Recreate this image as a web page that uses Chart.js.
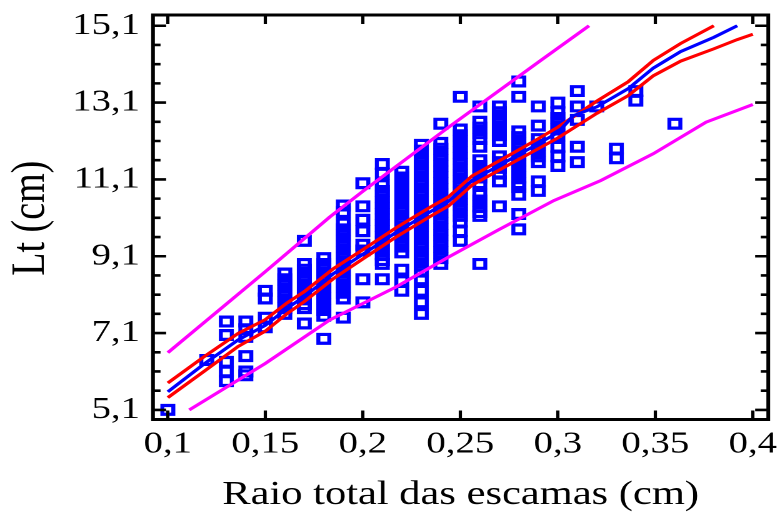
<!DOCTYPE html>
<html>
<head>
<meta charset="utf-8">
<script src="https://cdn.jsdelivr.net/npm/chart.js@4/dist/chart.umd.min.js"></script>
<style>
  html, body { margin: 0; padding: 0; background: #fff; overflow: hidden; }
  /* the original figure is stretched horizontally */
  #wrap { width: 624px; height: 518px; transform: scaleX(1.25); transform-origin: 0 0; }
</style>
</head>
<body>
<div id="wrap"><canvas id="chart"></canvas></div>
<script>
// Axis ticks
const X_TICKS = [0.1, 0.15, 0.2, 0.25, 0.3, 0.35, 0.4];
const X_LABELS = ['0,1', '0,15', '0,2', '0,25', '0,3', '0,35', '0,4'];
const Y_TICKS = [5.1, 7.1, 9.1, 11.1, 13.1, 15.1];
const Y_LABELS = ['5,1', '7,1', '9,1', '11,1', '13,1', '15,1'];
const Y_MINOR = [5.6, 6.1, 6.6, 7.6, 8.1, 8.6, 9.6, 10.1, 10.6, 11.6, 12.1, 12.6, 13.6, 14.1, 14.6];
const Y_TITLE = 'Lt (cm)';
const Y_TITLE_AT = 10.09; // valor de y onde fica o centro do título

// Observations: scale radius (cm) and the Lt values measured at each radius
const RAIO = [0.10, 0.12, 0.13, 0.14, 0.15, 0.16, 0.17, 0.18, 0.19, 0.20, 0.21, 0.22, 0.23,
              0.24, 0.25, 0.26, 0.27, 0.28, 0.29, 0.30, 0.31, 0.32, 0.33, 0.34, 0.36];
const LT = [
  [5.1],
  [6.4],
  [7.4, 7.05, 6.35, 6.1, 5.85],
  [7.4, 7.2, 7.0, 6.5, 6.1, 6.0],
  [8.2, 8.0, 7.5, 7.25],
  [8.65, 8.5, 8.35, 8.2, 8.05, 7.9, 7.75, 7.6],
  [9.5, 8.9, 8.75, 8.6, 8.45, 8.3, 8.15, 8.0, 7.85, 7.75, 7.35],
  [9.05, 8.9, 8.75, 8.6, 8.45, 8.3, 8.15, 8.0, 7.85, 7.7, 7.55, 6.95],
  [10.42, 10.25, 9.95, 9.8, 9.65, 9.5, 9.35, 9.2, 9.05, 8.9, 8.75, 8.6, 8.45, 8.3, 8.15, 8.0, 7.5],
  [11.0, 10.4, 10.05, 9.75, 9.4, 9.25, 8.5, 7.9],
  [11.5, 11.25, 10.95, 10.8, 10.65, 10.5, 10.35, 10.2, 10.05, 9.9, 9.75, 9.6, 9.45, 9.3, 9.15, 9.0, 8.9, 8.5],
  [11.3, 11.15, 11.0, 10.85, 10.7, 10.55, 10.4, 10.25, 10.1, 9.95, 9.8, 9.65, 9.5, 9.35, 9.2, 8.75, 8.45, 8.2],
  [12.0, 11.85, 11.7, 11.55, 11.4, 11.25, 11.1, 10.95, 10.8, 10.65, 10.5, 10.35, 10.2, 10.05, 9.9,
   9.75, 9.6, 9.45, 9.3, 9.15, 9.0, 8.85, 8.7, 8.5, 8.2, 7.9, 7.6],
  [12.55, 12.05, 11.9, 11.75, 11.6, 11.45, 11.3, 11.15, 11.0, 10.85, 10.7, 10.55, 10.4, 10.25, 10.1,
   9.95, 9.8, 9.65, 9.5, 9.35, 9.2, 9.05, 8.9],
  [13.25, 12.4, 12.25, 12.1, 11.95, 11.8, 11.65, 11.5, 11.35, 11.2, 11.05, 10.9, 10.75, 10.6, 10.45,
   10.3, 10.15, 10.0, 9.75, 9.5],
  [13.0, 12.6, 12.45, 12.3, 12.15, 11.95, 11.6, 11.45, 11.3, 11.15, 11.0, 10.7, 10.55, 10.4, 10.25, 10.15, 8.9],
  [13.0, 12.85, 12.7, 12.55, 12.4, 12.25, 12.1, 11.7, 11.55, 11.4, 11.25, 11.05, 10.4],
  [13.65, 13.25, 12.35, 12.2, 12.05, 11.9, 11.75, 11.6, 11.45, 11.3, 11.15, 11.0, 10.9, 10.7, 10.2, 9.8],
  [13.0, 12.5, 12.15, 12.0, 11.85, 11.7, 11.55, 11.05, 10.8],
  [13.1, 12.85, 12.7, 12.55, 12.4, 12.25, 11.95, 11.7, 11.45],
  [13.4, 13.0, 12.65, 11.95, 11.55],
  [13.0],
  [11.9, 11.65],
  [13.4, 13.15],
  [12.55]
];

// Fitted line (blue)
const FIT_X = [0.100, 0.119, 0.136, 0.150, 0.161, 0.170, 0.185, 0.200, 0.217, 0.234, 0.244,
               0.256, 0.273, 0.290, 0.300, 0.308, 0.320, 0.336, 0.349, 0.363, 0.380, 0.392];
const FIT_Y = [5.57, 6.31, 6.92, 7.30, 7.74, 8.05, 8.65, 9.15, 9.72, 10.24, 10.53,
               11.07, 11.55, 12.03, 12.32, 12.76, 12.99, 13.46, 14.00, 14.43, 14.80, 15.10];

// Confidence band (red)
const CONF_UP_X = [0.100, 0.119, 0.136, 0.150, 0.161, 0.170, 0.185, 0.200, 0.217, 0.234,
                   0.244, 0.256, 0.273, 0.290, 0.300, 0.320, 0.336, 0.349, 0.363, 0.380];
const CONF_UP_Y = [5.80, 6.50, 7.09, 7.45, 7.88, 8.18, 8.78, 9.27, 9.84, 10.36,
                   10.65, 11.19, 11.67, 12.16, 12.46, 13.14, 13.64, 14.20, 14.64, 15.10];
const CONF_LO_X = [0.100, 0.119, 0.136, 0.150, 0.161, 0.170, 0.185, 0.200, 0.217, 0.234, 0.244,
                   0.256, 0.273, 0.290, 0.300, 0.320, 0.336, 0.349, 0.363, 0.380, 0.392, 0.400];
const CONF_LO_Y = [5.42, 6.12, 6.75, 7.15, 7.60, 7.92, 8.52, 9.03, 9.60, 10.12, 10.41,
                   10.95, 11.43, 11.90, 12.18, 12.82, 13.28, 13.80, 14.18, 14.50, 14.74, 14.88];

// Prediction band (magenta)
const PRED_UP_X = [0.100, 0.150, 0.183, 0.200, 0.244, 0.291, 0.316];
const PRED_UP_Y = [6.59, 8.70, 10.12, 10.79, 12.46, 14.19, 15.10];
const PRED_LO_X = [0.111, 0.150, 0.183, 0.217, 0.244, 0.270, 0.298, 0.322, 0.349, 0.376, 0.400];
const PRED_LO_Y = [5.10, 6.31, 7.44, 8.30, 9.08, 9.80, 10.55, 11.07, 11.77, 12.59, 13.05];

const X_MIN = 0.0924, X_MAX = 0.4079;
const Y_MIN = 4.85, Y_MAX = 15.38;

// junta os pares x/y para o Chart.js
function pairs(xs, ys) {
  return xs.map((x, i) => ({ x: x, y: ys[i] }));
}

const points = [];
RAIO.forEach((r, i) => {
  LT[i].forEach(v => points.push({ x: r, y: v }));
});

function lineSet(data, color) {
  return {
    data: data,
    showLine: true,
    borderColor: color,
    borderWidth: 3,
    pointRadius: 0,
    tension: 0,
    fill: false
  };
}

// Moldura do gráfico, marcas para dentro nos quatro lados e título do eixo y
const framePlugin = {
  id: 'frame',
  afterDatasetsDraw(chart) {
    const { ctx, chartArea: a, scales: { x, y } } = chart;
    ctx.save();
    ctx.strokeStyle = '#000';
    ctx.lineWidth = 3;
    ctx.strokeRect(a.left, a.top, a.right - a.left, a.bottom - a.top);
    ctx.lineWidth = 2.6;
    ctx.beginPath();
    X_TICKS.forEach(v => {
      const px = x.getPixelForValue(v);
      ctx.moveTo(px, a.bottom); ctx.lineTo(px, a.bottom - 9);
      ctx.moveTo(px, a.top); ctx.lineTo(px, a.top + 9);
    });
    Y_TICKS.forEach(v => {
      const py = y.getPixelForValue(v);
      ctx.moveTo(a.left, py); ctx.lineTo(a.left + 10.5, py);
      ctx.moveTo(a.right, py); ctx.lineTo(a.right - 10.5, py);
    });
    Y_MINOR.forEach(v => {
      const py = y.getPixelForValue(v);
      ctx.moveTo(a.left, py); ctx.lineTo(a.left + 6, py);
      ctx.moveTo(a.right, py); ctx.lineTo(a.right - 6, py);
    });
    ctx.stroke();

    // título do eixo y
    ctx.translate(25, y.getPixelForValue(Y_TITLE_AT));
    ctx.rotate(-Math.PI / 2);
    ctx.fillStyle = '#000';
    ctx.font = "38px 'Liberation Serif', 'Times New Roman', serif";
    ctx.textAlign = 'center';
    ctx.textBaseline = 'middle';
    ctx.fillText(Y_TITLE, 0, 0);
    ctx.restore();
  }
};

Chart.defaults.font.family = "'Liberation Serif', 'Times New Roman', serif";
Chart.defaults.color = '#000';

new Chart(document.getElementById('chart'), {
  type: 'scatter',
  data: {
    datasets: [
      lineSet(pairs(FIT_X, FIT_Y), '#0000ff'),
      lineSet(pairs(CONF_UP_X, CONF_UP_Y), '#ff0000'),
      lineSet(pairs(CONF_LO_X, CONF_LO_Y), '#ff0000'),
      lineSet(pairs(PRED_UP_X, PRED_UP_Y), '#ff00ff'),
      lineSet(pairs(PRED_LO_X, PRED_LO_Y), '#ff00ff'),
      {
        data: points,
        pointStyle: 'rect',
        pointRadius: 6.2,
        borderWidth: 3.2,
        borderColor: '#0000ff',
        backgroundColor: 'rgba(0,0,0,0)'
      }
    ]
  },
  options: {
    responsive: true,
    maintainAspectRatio: false,
    animation: false,
    devicePixelRatio: 2,
    layout: { padding: { top: 15, right: 6.4, left: 0, bottom: 0 } },
    plugins: { legend: { display: false }, tooltip: { enabled: false } },
    scales: {
      x: {
        type: 'linear',
        min: X_MIN,
        max: X_MAX,
        grid: { display: false, drawTicks: false },
        border: { display: false },
        afterBuildTicks: s => { s.ticks = X_TICKS.map(v => ({ value: v })); },
        afterFit: s => {
          s.height = 98.5;
          s.paddingLeft = 0;
          s.paddingRight = 0;
        },
        ticks: {
          autoSkip: false,
          maxRotation: 0,
          padding: 6.5,
          font: { size: 31 },
          callback: (v, i) => X_LABELS[i]
        },
        title: {
          display: true,
          text: 'Raio total das escamas (cm)',
          font: { size: 34 },
          padding: { top: 0, bottom: 2.5 }
        }
      },
      y: {
        type: 'linear',
        min: Y_MIN,
        max: Y_MAX,
        grid: { display: false, drawTicks: false },
        border: { display: false },
        afterBuildTicks: s => { s.ticks = Y_TICKS.map(v => ({ value: v })); },
        afterFit: s => {
          s.width = 122.4;
          s.paddingTop = 0;
          s.paddingBottom = 0;
        },
        ticks: {
          autoSkip: false,
          padding: 10.4,
          font: { size: 31 },
          callback: (v, i) => Y_LABELS[i]
        },
        title: { display: false }
      }
    }
  },
  plugins: [framePlugin]
});
</script>
</body>
</html>
